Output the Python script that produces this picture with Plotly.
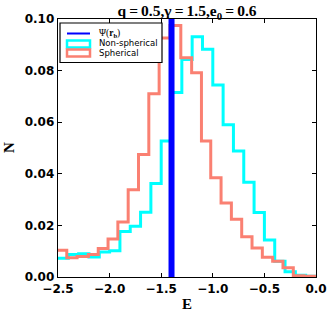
import plotly.graph_objects as go

# Spherical histogram (salmon)
sph_edges = [-2.515, -2.415, -2.315, -2.205, -2.11, -2.015, -1.92, -1.82, -1.72, -1.62, -1.52,
             -1.415, -1.31, -1.205, -1.11, -1.02, -0.92, -0.82, -0.72, -0.62, -0.52,
             -0.42, -0.32, -0.22, -0.115, -0.015]
sph_vals = [0.0104, 0.0075, 0.0079, 0.0087, 0.0110, 0.0147, 0.0213, 0.0338, 0.0475, 0.0710,
            0.0926, 0.0975, 0.0850, 0.0792, 0.0527, 0.0385, 0.0287, 0.0224, 0.0156, 0.0112,
            0.0077, 0.0061, 0.0036, 0.0005, 0.0003]

# Non-spherical histogram (cyan)
non_edges = [-2.5, -2.4, -2.3, -2.2, -2.1, -2.0, -1.9, -1.8, -1.7, -1.6, -1.5,
             -1.4, -1.3, -1.2, -1.1, -1.0, -0.9, -0.8, -0.7, -0.6, -0.5,
             -0.4, -0.3, -0.2, -0.1, 0.0]
non_vals = [0.0073, 0.0087, 0.0090, 0.0078, 0.0097, 0.0102, 0.0176, 0.0197, 0.0251, 0.0362,
            0.0527, 0.0715, 0.0843, 0.0931, 0.0883, 0.0744, 0.0590, 0.0488, 0.0367, 0.0250,
            0.0143, 0.0061, 0.0020, 0.0007, 0.0003]

psi_rb = -1.40

x_ticks = [-2.5, -2.0, -1.5, -1.0, -0.5, 0.0]
x_ticktext = ["\u22122.5", "\u22122.0", "\u22121.5", "\u22121.0", "\u22120.5", "0.0"]
y_ticks = [0.00, 0.02, 0.04, 0.06, 0.08, 0.10]
y_ticktext = ["0.00", "0.02", "0.04", "0.06", "0.08", "0.10"]

legend_labels = ["\u03a8(<b>r</b><sub><b>b</b></sub>)", "Non-spherical", "Spherical"]

CYAN = "#00ffff"
SALMON = "#fa8072"
BLUE = "#0000ff"

W, H = 332, 317
ML, MR, MT, MB = 58, 16, 19, 40
PW, PH = W - ML - MR, H - MT - MB


def px_x(x):
    return (x - ML) / PW


def px_y(y):
    return (H - MB - y) / PH


def step_xy(edges, vals):
    xs = list(edges)
    ys = list(vals) + [vals[-1]]
    xs.append(edges[-1])
    ys.append(0.0)
    return xs, ys


fig = go.Figure()

nx, ny = step_xy(non_edges, non_vals)
fig.add_trace(go.Scatter(x=nx, y=ny, mode="lines", line=dict(color=CYAN, width=3, shape="hv"),
                         name=legend_labels[1], showlegend=False, hoverinfo="skip"))
sx, sy = step_xy(sph_edges, sph_vals)
fig.add_trace(go.Scatter(x=sx, y=sy, mode="lines", line=dict(color=SALMON, width=3, shape="hv"),
                         name=legend_labels[2], showlegend=False, hoverinfo="skip"))
fig.add_trace(go.Scatter(x=[psi_rb, psi_rb], y=[y_ticks[0], y_ticks[-1]], mode="lines",
                         line=dict(color=BLUE, width=6), name="Psi", showlegend=False,
                         hoverinfo="skip"))

tickfont = dict(family="DejaVu Sans", size=12, color="black", weight="bold")
axis_common = dict(showline=True, linecolor="black", linewidth=1.3, mirror="allticks",
                   ticks="inside", ticklen=4, tickwidth=1.2, tickcolor="black",
                   showgrid=False, zeroline=False, tickfont=tickfont, automargin=False)

label_font = dict(family="Liberation Serif", size=15, color="black")
leg_font = dict(family="DejaVu Sans", size=8.5, color="black")

# legend box (drawn as layout decoration)
shapes = [
    dict(type="rect", xref="paper", yref="paper", x0=px_x(60), x1=px_x(162), y0=px_y(62.5), y1=px_y(23),
         fillcolor="white", line=dict(color="black", width=1.2), layer="above"),
    dict(type="line", xref="paper", yref="paper", x0=px_x(67), x1=px_x(90), y0=px_y(33.5), y1=px_y(33.5),
         line=dict(color=BLUE, width=2), layer="above"),
    dict(type="rect", xref="paper", yref="paper", x0=px_x(67), x1=px_x(90), y0=px_y(47.5), y1=px_y(40.5),
         line=dict(color=CYAN, width=2.5), fillcolor="rgba(0,0,0,0)", layer="above"),
    dict(type="rect", xref="paper", yref="paper", x0=px_x(67), x1=px_x(90), y0=px_y(56.5), y1=px_y(49.5),
         line=dict(color=SALMON, width=2.5), fillcolor="rgba(0,0,0,0)", layer="above"),
]

annotations = [
    dict(text="<b>E</b>", xref="paper", yref="paper", x=0.5, y=px_y(304),
         xanchor="center", yanchor="middle", showarrow=False, font=label_font),
    dict(text="<b>N</b>", xref="paper", yref="paper", x=px_x(9), y=0.5,
         xanchor="center", yanchor="middle", showarrow=False, textangle=-90, font=label_font),
    dict(text=legend_labels[0], xref="paper", yref="paper", x=px_x(97), y=px_y(33),
         xanchor="left", yanchor="middle", showarrow=False,
         font=dict(family="Liberation Serif", size=9.5, color="black")),
    dict(text=legend_labels[1], xref="paper", yref="paper", x=px_x(97), y=px_y(43.5),
         xanchor="left", yanchor="middle", showarrow=False, font=leg_font),
    dict(text=legend_labels[2], xref="paper", yref="paper", x=px_x(97), y=px_y(53),
         xanchor="left", yanchor="middle", showarrow=False, font=leg_font),
]

fig.update_layout(
    width=W, height=H,
    margin=dict(l=ML, r=MR, t=MT, b=MB, autoexpand=False),
    paper_bgcolor="white", plot_bgcolor="white",
    title=dict(text="<b>q\u2009=\u20090.5,\u03b3\u2009=\u20091.5,e<sub>0</sub>\u2009=\u20090.6</b>",
               x=px_x(187), xanchor="center", xref="paper", y=(H - 11) / H, yanchor="middle",
               yref="container",
               font=dict(family="Liberation Serif", size=15.5, color="black")),
    xaxis=dict(range=[-2.5, 0.0], tickvals=x_ticks, ticktext=x_ticktext, **axis_common),
    yaxis=dict(range=[0.0, 0.1], tickvals=y_ticks, ticktext=y_ticktext, **axis_common),
    showlegend=False,
    hovermode=False,
    shapes=shapes,
    annotations=annotations,
)

fig.write_html("out.html", config={"displayModeBar": False, "staticPlot": True},
               post_script="document.body.style.margin='0';")
